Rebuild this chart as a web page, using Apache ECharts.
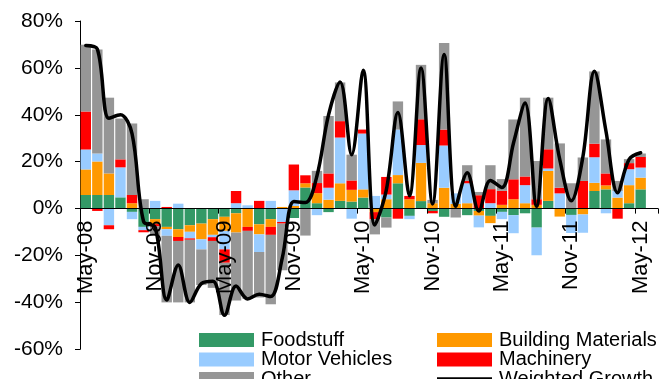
<!DOCTYPE html>
<html><head><meta charset="utf-8">
<script src="https://cdn.jsdelivr.net/npm/echarts@6/dist/echarts.min.js"></script>
<style>html,body{margin:0;padding:0;background:#fff}#c{width:664px;height:379px}</style>
</head><body><div id="c"></div>
<script>
const categories = ['May-08','Jun-08','Jul-08','Aug-08','Sep-08','Oct-08','Nov-08','Dec-08',
 'Jan-09','Feb-09','Mar-09','Apr-09','May-09','Jun-09','Jul-09','Aug-09','Sep-09','Oct-09','Nov-09','Dec-09',
 'Jan-10','Feb-10','Mar-10','Apr-10','May-10','Jun-10','Jul-10','Aug-10','Sep-10','Oct-10','Nov-10','Dec-10',
 'Jan-11','Feb-11','Mar-11','Apr-11','May-11','Jun-11','Jul-11','Aug-11','Sep-11','Oct-11','Nov-11','Dec-11',
 'Jan-12','Feb-12','Mar-12','Apr-12','May-12','Jun-12'];

const foodstuff = [5.8,5.8,5.8,4.8,-1.4,-7.8,-4.5,-7.8,-8.8,-7.1,-6.4,-4.5,-3.5,-2,0,-6.7,-4.5,0,-4,9,
 2.3,-1.5,3.3,3,4.7,0,-3.8,10.8,-3.1,3.2,-1,-3.5,0,-2.8,-1,-3.1,-1.4,-2.8,-2,-8.1,
 3.3,0,-2.7,0,7.5,8.2,0,2.3,8.2,null];
const buildingMaterials = [10.9,14.3,9.2,0,2.3,0,-2.1,-1,-3.3,-2.8,-6.7,-6.7,-6,-8.2,-7.8,-4.3,-3.3,0.7,1.1,1.8,
 4.3,3.8,7.5,5,3.5,-1.5,4,3.5,4,16.3,2.3,8.9,2,2.3,-2,-3.1,1.6,4,2.3,1.6,
 12.8,-3.4,0,-2.5,3.5,1.7,4.7,7.7,5,null];
const motorVehicles = [8.5,3.4,-7.1,12.8,-3.1,-1.4,3.3,-2.8,2.1,-2.8,-4.3,-1,-7.9,2.3,1.4,-7.5,3.3,-5.7,6.7,0,
 -2.8,5.1,19.5,-4.3,23.8,5.4,2,19.4,-1.4,7.6,0,18,4.5,8.5,-5,2.3,-3.1,-7.7,7.7,-11.8,
 1,6.5,-7.7,-7.8,10.9,-2,2.8,6.8,4.3,null];
const machinery = [16.2,-1,-1.7,3.4,3.5,-0.9,-1,0.7,-1.7,-0.6,0,-1.6,-5.7,5.2,-1.7,3.3,-3.4,-0.7,11,3.4,
 4.3,6.1,7,4,1.7,-3,7.5,-4.3,1.4,11,-1,6.8,0,1,5.7,6,6,8.5,3.7,2.4,
 8.2,2.4,0,11.8,5.8,5.1,-4.3,2.6,4.5,null];
const other = [28.5,44.3,32.3,17.4,30.5,4,-4,-28.4,-26.2,-26.7,-15.2,-20,-22.3,-29,-29,-19.4,-29.6,-19.9,0,-11.5,
 5.2,24.5,16.5,11,0,-6.5,-4.3,12,0,23.2,1.4,36.9,-3.8,6.7,1.4,10.2,5,25.5,33.6,16.3,
 22,18.9,10.8,10,30.8,14.5,4.3,1.7,1.5,null];
const weightedGrowth = [69.5,68,38.5,40,32,-5.5,-8,-39,-24,-40,-32,-31,-45.5,-33,-38.5,-36.5,-37.5,-21,3,2.6,
 14,40,54,23,59,-7,8,41,5.5,60,2,65.7,1,15.3,-1,12,9,28,45,1,
 47,21,3.3,22,58.6,33,6.8,21,23.8,null];

const seriesNames = ['Foodstuff','Building Materials','Motor Vehicles','Machinery','Other','Weighted Growth'];
const colors = ['#339966','#FF9900','#99CCFF','#FF0000','#969696','#000000'];
const font = '"Liberation Sans", Arial, sans-serif';

const chart = echarts.init(document.getElementById('c'), null, {renderer:'canvas'});
function bar(i, data){
  return {name: seriesNames[i], type:'bar', stack:'total', data: data,
    itemStyle:{color: colors[i]}, barCategoryGap:'10%', z:2,
    emphasis:{disabled:true}};
}
const legendText = {fontSize:20, fontFamily:font, color:'#000', lineHeight:19, padding:[0,0,0,2]};
function leg(name, left, top, isLine){
  return {left:left, top:top, itemWidth:55, itemHeight:isLine ? 3.5 : 14, itemGap:0, selectedMode:false,
    data:[{name:name, icon:'rect'}], textStyle:legendText};
}
const gridTop = 21, gridBottom = 29.7, yMin = -60, yMax = 80;
const zeroOffset = (379 - gridTop - gridBottom) * (0 - yMin) / (yMax - yMin);
const option = {
  animation:false,
  grid:{left:80, right:6, top:gridTop, bottom:gridBottom, containLabel:false, outerBoundsMode:'none'},
  xAxis:{type:'category', data:categories, boundaryGap:true, z:3, position:'bottom', offset:-zeroOffset,
    axisLine:{onZero:false, lineStyle:{color:'#000', width:1}},
    axisTick:{show:true, interval:5, length:5, alignWithLabel:false, lineStyle:{color:'#000'}},
    axisLabel:{interval:5, rotate:90, fontSize:22, fontFamily:font, color:'#000', margin:12},
    splitLine:{show:false}},
  yAxis:{type:'value', min:yMin, max:yMax, interval:20,
    axisLine:{show:true, lineStyle:{color:'#000'}},
    axisTick:{show:true, length:5, lineStyle:{color:'#000'}},
    axisLabel:{formatter:'{value}%', fontSize:21, fontFamily:font, color:'#000', margin:17},
    splitLine:{show:false}},
  legend:[
    leg('Foodstuff',194,325,false), leg('Motor Vehicles',194,344.5,false), leg('Other',194,364,false),
    leg('Building Materials',432,325,false), leg('Machinery',432,344.5,false), leg('Weighted Growth',432,364,true)
  ],
  series:[
    bar(0, foodstuff), bar(1, buildingMaterials), bar(2, motorVehicles), bar(3, machinery), bar(4, other),
    {name:seriesNames[5], type:'line', data:weightedGrowth, smooth:0.35, symbol:'none', z:5,
     lineStyle:{color:'#000', width:3.5, cap:'round', join:'round'}, itemStyle:{color:'#000'},
     emphasis:{disabled:true}}
  ]
};
chart.setOption(option);
</script>
</body></html>
